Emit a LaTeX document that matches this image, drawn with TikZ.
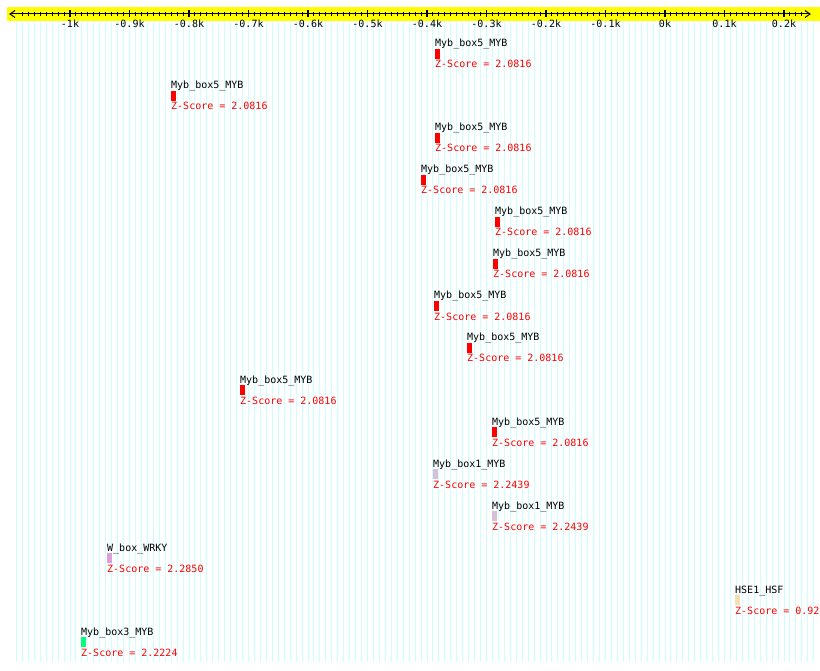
\documentclass[tikz,border=0pt]{standalone}
\usepackage{fontspec}
\setmonofont{DejaVu Sans Mono}
\definecolor{gridc}{RGB}{204,255,255}
\definecolor{axisyellow}{RGB}{255,255,0}
\definecolor{mybfive}{RGB}{255,0,0}
\definecolor{mybone}{RGB}{216,191,216}
\definecolor{wbox}{RGB}{221,160,221}
\definecolor{hse}{RGB}{245,222,179}
\definecolor{mybthree}{RGB}{0,255,127}
\tikzset{
  lbl/.style={anchor=base west, inner sep=0pt, font=\ttfamily\fontsize{10}{12}\selectfont, text=black},
  zsc/.style={anchor=base west, inner sep=0pt, font=\ttfamily\fontsize{10}{12}\selectfont, text=red},
  ticklbl/.style={anchor=base, inner sep=0pt, font=\ttfamily\fontsize{10}{12}\selectfont, text=black},
  sitebar/.style={anchor=north west, inner sep=0pt, outer sep=0pt, minimum width=5pt, minimum height=10pt, draw=none},
  gridline/.style={draw=gridc, line width=1pt},
  axisline/.style={draw=black, line width=1pt},
}
\begin{document}
\begin{tikzpicture}[x=1pt,y=-1pt]
\useasboundingbox (0,0) rectangle (820,671);
\clip (0,0) rectangle (820,671);
\fill[white] (0,0) rectangle (820,671);
% grid
\foreach \v in {-109,...,25}
  \draw[gridline] ({665+5.95*\v},21) -- ({665+5.95*\v},662);
% axis band
\fill[axisyellow] (7,7) rectangle (820,21);
\coordinate (axl) at (10,14);
\coordinate (axr) at (810,14);
\draw[axisline] (axl) -- (axr);
\draw[axisline] (15,10.5) -- (axl) -- (15,17.5);
\draw[axisline] (805,10.5) -- (axr) -- (805,17.5);
\foreach \v in {-108,...,23}
  \draw[axisline] ({665+5.95*\v},12) -- ({665+5.95*\v},16.5);
\foreach \v/\t in {-10/-1k,-9/-0.9k,-8/-0.8k,-7/-0.7k,-6/-0.6k,-5/-0.5k,-4/-0.4k,-3/-0.3k,-2/-0.2k,-1/-0.1k,0/0k,1/0.1k,2/0.2k}{
  \draw[draw=black, line width=1.6pt] ({665+59.5*\v},10.5) -- ({665+59.5*\v},17.5);
  \node[ticklbl] (tick\v) at ({665+59.5*\v},28) {\t};
}
% sites
\foreach \i/\x/\nm/\col/\z in {
  0/435/Myb\_box5\_MYB/mybfive/2.0816,
  1/171/Myb\_box5\_MYB/mybfive/2.0816,
  2/435/Myb\_box5\_MYB/mybfive/2.0816,
  3/421/Myb\_box5\_MYB/mybfive/2.0816,
  4/495/Myb\_box5\_MYB/mybfive/2.0816,
  5/493/Myb\_box5\_MYB/mybfive/2.0816,
  6/434/Myb\_box5\_MYB/mybfive/2.0816,
  7/467/Myb\_box5\_MYB/mybfive/2.0816,
  8/240/Myb\_box5\_MYB/mybfive/2.0816,
  9/492/Myb\_box5\_MYB/mybfive/2.0816,
  10/433/Myb\_box1\_MYB/mybone/2.2439,
  11/492/Myb\_box1\_MYB/mybone/2.2439,
  12/107/W\_box\_WRKY/wbox/2.2850,
  13/735/HSE1\_HSF/hse/0.925,
  14/81/Myb\_box3\_MYB/mybthree/2.2224}{
  \node[lbl] (lab\i) at (\x,{47+42*\i}) {\nm};
  \node[sitebar, fill=\col] (bar\i) at (\x,{49+42*\i}) {};
  \node[zsc] (z\i) at (\x,{68+42*\i}) {Z-Score = \z};
}
\end{tikzpicture}
\end{document}
